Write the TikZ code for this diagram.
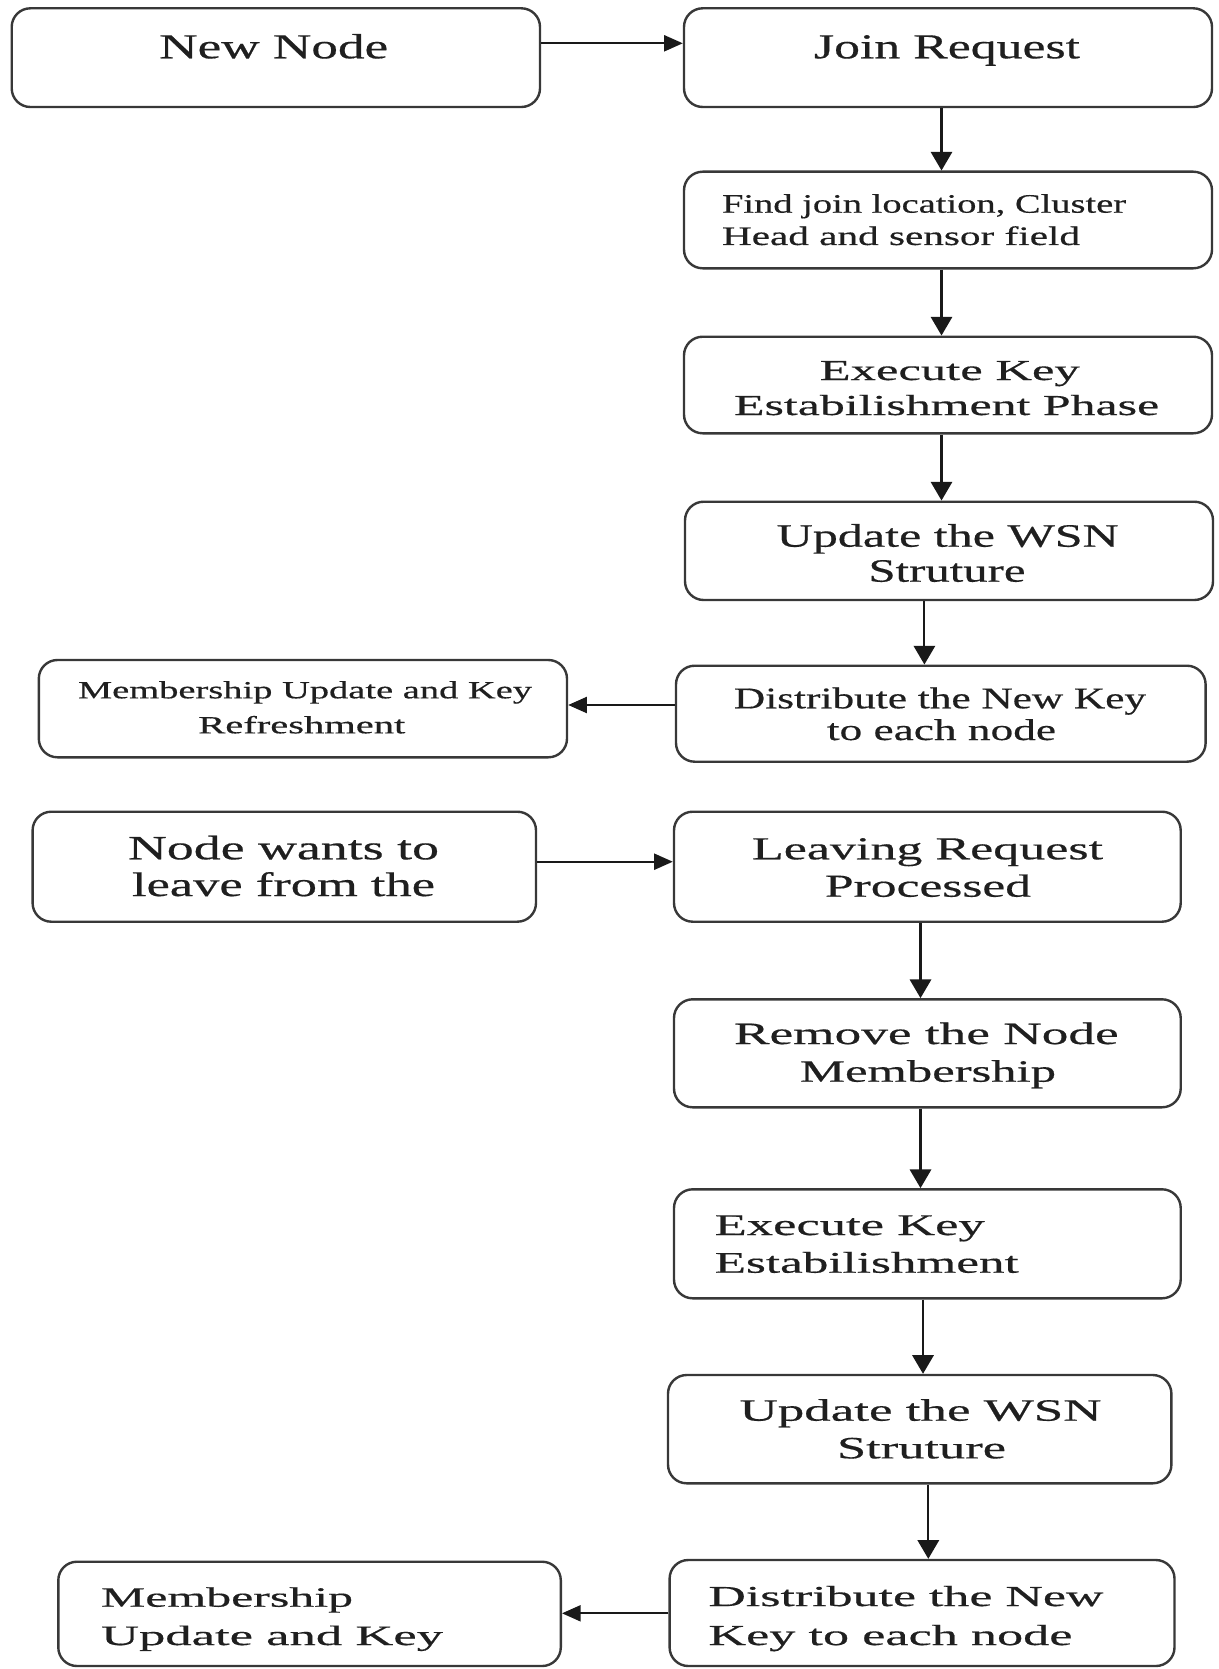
\documentclass[tikz,border=0pt]{standalone}
\usepackage{fontspec}
\setmainfont{Liberation Serif}[FakeBold=0.4]
\usepackage{graphicx}
\usetikzlibrary{arrows.meta,fit}

% one pixel of the drawing grid
\newdimen\pxu \pxu=0.75pt
% a text line stretched horizontally to a given width (in grid pixels)
\newcommand{\wline}[2]{\resizebox{#1\pxu}{\height}{#2}}

\begin{document}
\begin{tikzpicture}[x=0.75pt,y=-0.75pt,
  box/.style={draw=black!78, line width=1.8pt, rounded corners=14pt, inner sep=0pt},
  txt/.style={inner sep=0pt, outer sep=0pt, text=black!88},
  fs/.style={font=\fontsize{#1}{#1}\selectfont},
  flow/.style={draw=black!90, line width=1.6pt},
  down/.style={flow, -{Triangle[length=14pt,width=16pt]}},
  side/.style={flow, -{Triangle[length=14pt,width=12pt]}},
]
\useasboundingbox (0,0) rectangle (1218,1669);

% ---------- boxes: joining ----------
\node[box, fit={(11.7,8.3) (540,107)}]      (newnode) {};
\node[box, fit={(684,8.3) (1212,107)}]      (join) {};
\node[box, fit={(684,171.7) (1212,268.3)}]  (find) {};
\node[box, fit={(684,336.7) (1212,433.3)}]  (exec) {};
\node[box, fit={(685,501.7) (1213,600)}]    (upd) {};
\node[box, fit={(676,665.7) (1205.6,761.7)}] (dist) {};
\node[box, fit={(38.8,660) (567,757.3)}]    (memb) {};

% ---------- boxes: leaving ----------
\node[box, fit={(32.6,811.7) (536,921.7)}]    (leave) {};
\node[box, fit={(674,811.7) (1180.7,921.7)}]  (lreq) {};
\node[box, fit={(674,999.3) (1180.7,1107.3)}] (remove) {};
\node[box, fit={(674,1189.3) (1180.7,1298.3)}] (exectwo) {};
\node[box, fit={(668,1375) (1171.4,1483.3)}]  (updtwo) {};
\node[box, fit={(669.6,1560) (1174.5,1666)}]  (disttwo) {};
\node[box, fit={(58.3,1561.7) (560.8,1666)}]  (membtwo) {};

% ---------- texts ----------
\node[txt, fs=26.25, anchor=base] (t-newnode) at (273.7,58.3) {\wline{229}{New Node}};
\node[txt, fs=26.25, anchor=base] (t-join) at (947,58.3) {\wline{266}{Join Request}};

\node[txt, fs=20, anchor=base west] (t-find1) at (722,212.7) {\wline{404}{Find join location, Cluster}};
\node[txt, fs=20, anchor=base west] (t-find2) at (722,245) {\wline{358}{Head and sensor field}};

\node[txt, fs=21.75, anchor=base] (t-exec1) at (949.7,380) {\wline{260}{Execute Key}};
\node[txt, fs=21.75, anchor=base] (t-exec2) at (946.6,415) {\wline{425}{Estabilishment Phase}};

\node[txt, fs=24.5, anchor=base] (t-upd1) at (947.7,546.7) {\wline{342}{Update the WSN}};
\node[txt, fs=24.5, anchor=base] (t-upd2) at (947,581.7) {\wline{157}{Struture}};

\node[txt, fs=22.5, anchor=base] (t-dist1) at (940,708.3) {\wline{412}{Distribute the New Key}};
\node[txt, fs=22.5, anchor=base] (t-dist2) at (941.5,740) {\wline{229}{to each node}};

\node[txt, fs=18.5, anchor=base] (t-memb1) at (305,698.3) {\wline{454}{Membership Update and Key}};
\node[txt, fs=18.5, anchor=base] (t-memb2) at (301.8,733.3) {\wline{207}{Refreshment}};

\node[txt, fs=25.5, anchor=base] (t-leave1) at (283.5,859.3) {\wline{311}{Node wants to}};
\node[txt, fs=25.5, anchor=base] (t-leave2) at (283.5,896) {\wline{303}{leave from the}};

\node[txt, fs=24, anchor=base] (t-lreq1) at (927.5,859.3) {\wline{351}{Leaving Request}};
\node[txt, fs=24, anchor=base] (t-lreq2) at (928,896.7) {\wline{206}{Processed}};

\node[txt, fs=23.25, anchor=base] (t-remove1) at (926.3,1044) {\wline{384.6}{Remove the Node}};
\node[txt, fs=23.25, anchor=base] (t-remove2) at (928,1081.7) {\wline{256}{Membership}};

\node[txt, fs=22.5, anchor=base west] (t-exectwo1) at (714.7,1235) {\wline{270}{Execute Key}};
\node[txt, fs=22.5, anchor=base west] (t-exectwo2) at (714.7,1272.7) {\wline{304}{Estabilishment}};

\node[txt, fs=23.25, anchor=base] (t-updtwo1) at (920.5,1420.7) {\wline{362}{Update the WSN}};
\node[txt, fs=23.25, anchor=base] (t-updtwo2) at (921.5,1458.3) {\wline{169}{Struture}};

\node[txt, fs=21.75, anchor=base west] (t-disttwo1) at (708.4,1606) {\wline{395}{Distribute the New}};
\node[txt, fs=21.75, anchor=base west] (t-disttwo2) at (708.4,1645) {\wline{364}{Key to each node}};

\node[txt, fs=21, anchor=base west] (t-membtwo1) at (101,1606.7) {\wline{252}{Membership}};
\node[txt, fs=21, anchor=base west] (t-membtwo2) at (101,1645) {\wline{342}{Update and Key}};

% ---------- connector guides ----------
\coordinate (rowA) at (0,43.3);
\coordinate (rowB) at (0,705);
\coordinate (rowC) at (0,861.7);
\coordinate (rowD) at (0,1613.3);
\coordinate (colA) at (941.5,0);
\coordinate (colB) at (924.4,0);
\coordinate (colC) at (920.5,0);
\coordinate (colD) at (923,0);
\coordinate (colE) at (928.3,0);

% ---------- connectors ----------
\draw[side] (newnode.east |- rowA) -- (join.west |- rowA);
\draw[down] (join.south -| colA) -- (find.north -| colA);
\draw[down] (find.south -| colA) -- (exec.north -| colA);
\draw[down] (exec.south -| colA) -- (upd.north -| colA);
\draw[down] (upd.south -| colB) -- (dist.north -| colB);
\draw[side] (dist.west |- rowB) -- (memb.east |- rowB);

\draw[side] (leave.east |- rowC) -- (lreq.west |- rowC);
\draw[down] (lreq.south -| colC) -- (remove.north -| colC);
\draw[down] (remove.south -| colC) -- (exectwo.north -| colC);
\draw[down] (exectwo.south -| colD) -- (updtwo.north -| colD);
\draw[down] (updtwo.south -| colE) -- (disttwo.north -| colE);
\draw[side] (disttwo.west |- rowD) -- (membtwo.east |- rowD);
\end{tikzpicture}
\end{document}
